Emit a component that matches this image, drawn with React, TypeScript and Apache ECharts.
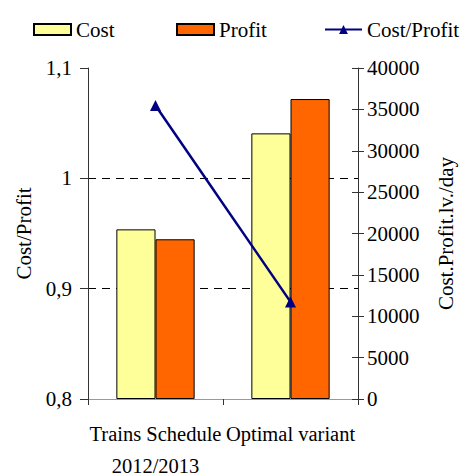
import { useEffect, useRef } from "react";
import * as echarts from "echarts";

// Categories shown on the horizontal axis
const categories = ["Trains Schedule\n2012/2013", "Optimal variant"];

// Daily cost and profit, lv./day (right axis)
const costValues = [20500, 32100];
const profitValues = [19300, 36250];

// Cost/Profit ratio (left axis)
const ratioValues = [1.066, 0.888];

// Legend entries, where each one starts, and its icon
const legendNames = ["Cost", "Profit", "Cost/Profit"];
const legendLefts = [33, 176, 324];
const legendIcons = ["rect", "rect", undefined];

// Axis ranges
const ratioAxis = { min: 0.8, max: 1.1, interval: 0.1 };
const moneyAxis = { min: 0, max: 40000, interval: 5000 };

const FONT = "Liberation Serif";
const FS = 21;

export default function App() {
  const ref = useRef<HTMLDivElement>(null);

  useEffect(() => {
    document.body.style.margin = "0";
    if (!ref.current) return;
    const chart = echarts.init(ref.current, undefined, { renderer: "svg" });

    chart.setOption({
      animation: false,
      textStyle: { fontFamily: FONT, color: "#000" },
      legend: legendNames.map((name, i) => ({
        left: legendLefts[i],
        top: 19,
        padding: 0,
        itemWidth: 37,
        itemHeight: 11,
        itemGap: 0,
        textStyle: { fontSize: FS, color: "#000", fontFamily: FONT },
        data: [legendIcons[i] ? { name, icon: legendIcons[i] } : name],
      })),
      grid: { left: 88, right: 102, top: 68, bottom: 77, outerBoundsMode: "none", containLabel: false },
      xAxis: [
        {
          type: "category",
          data: categories,
          position: "bottom",
          axisLine: { lineStyle: { color: "#333", width: 1 } },
          axisTick: { show: true, length: 6, lineStyle: { color: "#333" } },
          axisLabel: {
            interval: 0,
            fontSize: 20.5,
            lineHeight: 32,
            margin: 19,
            color: "#000",
            fontFamily: FONT,
          },
        },
        {
          type: "category",
          data: categories,
          position: "top",
          axisLine: { show: true, lineStyle: { color: "#999", width: 1 } },
          axisTick: { show: false },
          axisLabel: { show: false },
        },
      ],
      yAxis: [
        {
          type: "value",
          ...ratioAxis,
          position: "left",
          name: "Cost/Profit",
          nameLocation: "middle",
          nameGap: 50,
          nameRotate: 90,
          nameTextStyle: { fontSize: FS, color: "#000", fontFamily: FONT },
          axisLine: { show: true, lineStyle: { color: "#333" } },
          axisTick: { show: true, length: 8, lineStyle: { color: "#333" } },
          axisLabel: {
            fontSize: FS,
            margin: 16,
            color: "#000",
            fontFamily: FONT,
            formatter: (v: number) => String(+v.toFixed(1)).replace(".", ","),
          },
          splitLine: {
            show: true,
            showMinLine: false,
            showMaxLine: false,
            lineStyle: { color: "#000", width: 1, type: [8, 6] },
          },
        },
        {
          type: "value",
          ...moneyAxis,
          position: "right",
          name: "Cost.Profit.lv./day",
          nameLocation: "middle",
          nameGap: 77,
          nameRotate: 90,
          nameTextStyle: { fontSize: FS, color: "#000", fontFamily: FONT },
          axisLine: { show: true, lineStyle: { color: "#333" } },
          axisTick: { show: true, length: 6, lineStyle: { color: "#333" } },
          axisLabel: {
            fontSize: FS,
            margin: 9,
            color: "#000",
            fontFamily: FONT,
            formatter: (v: number) => String(v),
          },
          splitLine: { show: false },
        },
        {
          // inner half of the right axis' crossing ticks
          type: "value",
          ...moneyAxis,
          position: "right",
          axisLine: { show: false },
          axisTick: { show: true, inside: true, length: 6, lineStyle: { color: "#333" } },
          axisLabel: { show: false },
          splitLine: { show: false },
        },
      ],
      series: [
        {
          name: "Cost",
          type: "bar",
          yAxisIndex: 1,
          data: costValues,
          barGap: "0%",
          barCategoryGap: "42%",
          itemStyle: { color: "#FFFF99", borderColor: "#000", borderWidth: 1 },
        },
        {
          name: "Profit",
          type: "bar",
          yAxisIndex: 1,
          data: profitValues,
          barGap: "0%",
          barCategoryGap: "42%",
          itemStyle: { color: "#FF6600", borderColor: "#000", borderWidth: 1 },
        },
        {
          name: "Cost/Profit",
          type: "line",
          yAxisIndex: 0,
          data: ratioValues,
          symbol: "triangle",
          symbolSize: 11,
          lineStyle: { color: "#000080", width: 2.5 },
          itemStyle: { color: "#000080" },
          z: 5,
        },
      ],
    });

    return () => chart.dispose();
  }, []);

  return <div ref={ref} style={{ width: 460, height: 476 }} />;
}
